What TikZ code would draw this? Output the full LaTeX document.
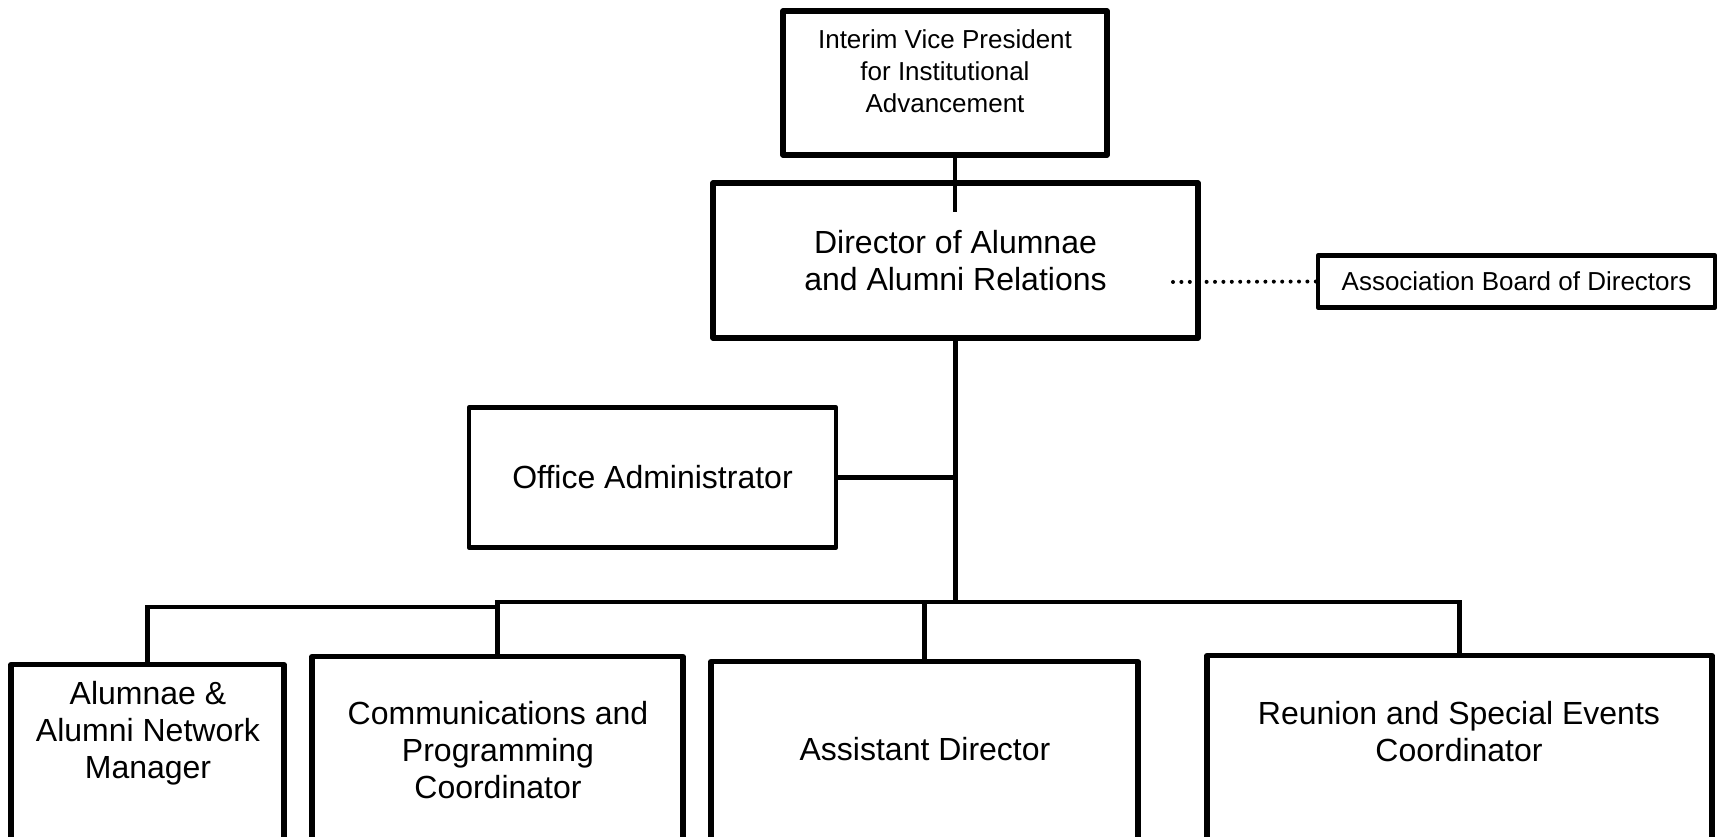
\documentclass[tikz,border=0pt]{standalone}
\usepackage{fontspec}
\setmainfont{Liberation Sans}
\usetikzlibrary{positioning}
\newcommand{\bigtxt}{\fontsize{16}{18.5}\selectfont}
\newcommand{\smalltxt}{\fontsize{13}{16}\selectfont}

\begin{document}
\begin{tikzpicture}[x=0.5pt, y=-0.5pt,
    box/.style={draw, line width=2.7pt, line join=round, align=center, inner sep=0pt},
    lowbox/.style={box, anchor=north, minimum height=110pt},
    txt/.style={align=center, font=\bigtxt, inner sep=0pt},
    link/.style={line width=2.3pt},
    dots/.style={line width=2pt, line cap=round, dash pattern=on 0pt off 4.2pt}]

    \useasboundingbox (0,0) rectangle (1720,836);
    \clip (0,0) rectangle (1720,836);

    % top of the chart
    \node[box, minimum width=162pt, minimum height=72pt] (vp) at (945,83) {};
    \node[txt, font=\smalltxt] at (945,71) {Interim Vice President\\for Institutional\\Advancement};
    \node[box, font=\bigtxt, minimum width=242.5pt, minimum height=77.5pt] (dir) at (955.5,260.5) {Director of Alumnae\\and Alumni Relations};
    \node[box, line width=2.2pt, font=\smalltxt, minimum width=198.5pt, minimum height=26pt] (board) at (1516.5,281.5) {Association Board of Directors};
    \node[box, line width=2.4pt, font=\bigtxt, minimum width=183.5pt, minimum height=70pt] (office) at (652.5,477.5) {Office Administrator};

    % bottom row, cut off by the page edge
    \node[lowbox, minimum width=136.5pt] (aa) at (147.5,662) {};
    \node[lowbox, minimum width=185.5pt] (comm) at (497.5,654) {};
    \node[lowbox, minimum width=213.5pt] (asst) at (924.5,659) {};
    \node[lowbox, minimum width=252.5pt] (reun) at (1459.5,653) {};
    \node[txt] at (148,733) {Alumnae \&\\Alumni Network\\Manager};
    \node[txt] at (498,750) {Communications and\\Programming\\Coordinator};
    \node[txt] at (925,749) {Assistant Director};
    \node[txt] at (1459,732) {Reunion and Special Events\\Coordinator};

    % connectors
    \coordinate (vpend) at (955,212);
    \coordinate (dotend) at (1168,282);
    \coordinate (hub) at (955,602);
    \coordinate (step) at (498,607);
    \draw[link] (vpend |- vp.south) -- (vpend);
    \draw[dots] (board.west) -- (dotend);
    \draw[link] (dir.south) -- (dir.south |- hub);
    \draw[link] (office.east) -- (office.east -| hub);
    \draw[link] (hub) -| (reun.north);
    \draw[link] (hub) -| (comm.north);
    \draw[link] (hub) -| (asst.north);
    \draw[link] (step) -| (aa.north);

\end{tikzpicture}
\end{document}
